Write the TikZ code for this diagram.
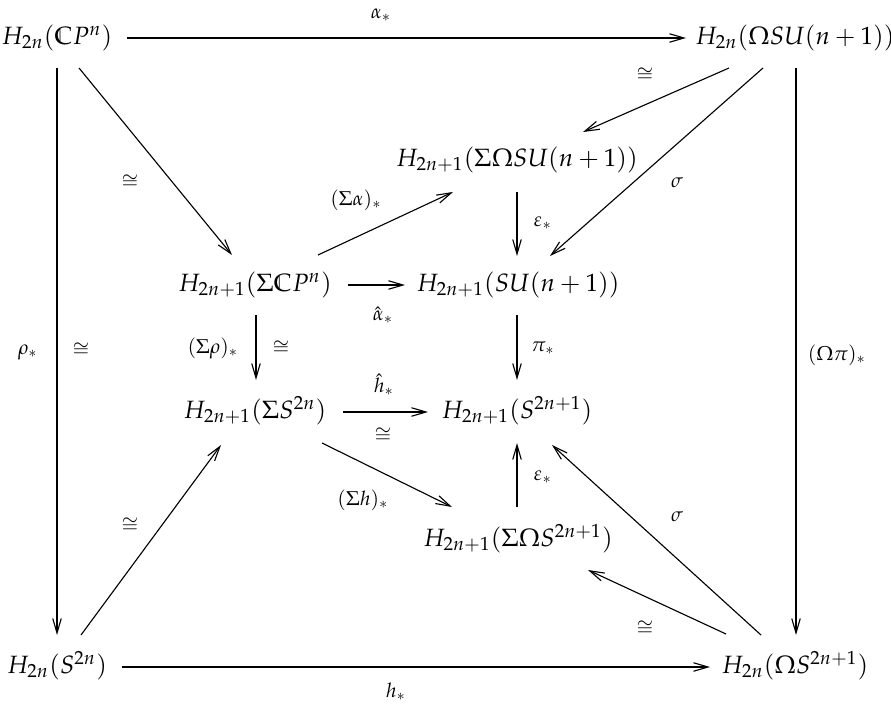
\documentclass[tikz,border=0pt]{standalone}
\usepackage{mathpazo}
\usetikzlibrary{arrows.meta,calc}
\tikzset{
  obj/.style={inner sep=0pt, text height=7.5pt, text depth=2.5pt, anchor=center},
  lab/.style={inner sep=0pt, font=\footnotesize},
  arr/.style={-{Straight Barb[length=5.8pt,width=3.4pt]}, line width=0.45pt},
}
\begin{document}
\begin{tikzpicture}[x=0.4pt,y=-0.4pt]
\useasboundingbox (0,0) rectangle (891,706);
% objects
\node[obj] (A) at (57,38) {$H_{2n}(\mathbb{C}P^n)$};
\node[obj] (B) at (795,38) {$H_{2n}(\Omega SU(n+1))$};
\node[obj] (C) at (517,160) {$H_{2n+1}(\Sigma\Omega SU(n+1))$};
\node[obj] (D) at (255,285) {$H_{2n+1}(\Sigma\mathbb{C}P^n)$};
\node[obj] (E) at (518,285) {$H_{2n+1}(SU(n+1))$};
\node[obj] (F) at (255,412) {$H_{2n+1}(\Sigma S^{2n})$};
\node[obj] (G) at (517,412) {$H_{2n+1}(S^{2n+1})$};
\node[obj] (Hn) at (518,540) {$H_{2n+1}(\Sigma\Omega S^{2n+1})$};
\node[obj] (I) at (57,667) {$H_{2n}(S^{2n})$};
\node[obj] (J) at (795,667) {$H_{2n}(\Omega S^{2n+1})$};
% connectors
\draw[arr] ($(A)+(70,0)$) -- ($(B)+(-109,0)$);
\draw[arr] ($(A)+(0,30)$) -- ($(I)+(0,-32)$);
\draw[arr] ($(B)+(1,30)$) -- ($(J)+(1,-32)$);
\draw[arr] ($(I)+(65,0)$) -- ($(J)+(-85,0)$);
\draw[arr] ($(A)+(22,30)$) -- ($(D)+(-23,-30)$);
\draw[arr] ($(D)+(63,-30)$) -- ($(C)+(-64,32)$);
\draw[arr] ($(B)+(-66,30)$) -- ($(C)+(66,-28)$);
\draw[arr] ($(B)+(-32,30)$) -- ($(E)+(32,-29)$);
\draw[arr] ($(C)+(0,32)$) -- ($(E)+(-1,-29)$);
\draw[arr] ($(D)+(93,0)$) -- ($(E)+(-113,0)$);
\draw[arr] ($(D)+(1,30)$) -- ($(F)+(1,-32)$);
\draw[arr] ($(F)+(88,0)$) -- ($(G)+(-89,0)$);
\draw[arr] ($(E)+(-1,30)$) -- ($(G)+(0,-32)$);
\draw[arr] ($(Hn)+(-1,-33)$) -- ($(G)+(0,31)$);
\draw[arr] ($(F)+(67,31)$) -- ($(Hn)+(-66,-33)$);
\draw[arr] ($(I)+(24,-32)$) -- ($(F)+(-34,33)$);
\draw[arr] ($(J)+(-34,-32)$) -- ($(G)+(35,33)$);
\draw[arr] ($(J)+(-69,-33)$) -- ($(Hn)+(70,30)$);
% labels
\node[lab] (lalpha) at (381,15) {$\alpha_*$};
\node[lab] (lrho) at (28,352) {$\rho_*$};
\node[lab] (lcongAI) at (81,350) {$\cong$};
\node[lab] (lOmpi) at (837,355) {$(\Omega\pi)_*$};
\node[lab] (lh) at (396,692) {$h_*$};
\node[lab] (lcongAD) at (130,182) {$\cong$};
\node[lab] (lSalpha) at (356,200) {$(\Sigma\alpha)_*$};
\node[lab] (lcongBC) at (645,75) {$\cong$};
\node[lab] (lsigmaBE) at (677,183) {$\sigma$};
\node[lab] (lepsCE) at (543,223) {$\varepsilon_*$};
\node[lab] (lahat) at (383,315) {$\hat{\alpha}_*$};
\node[lab] (lSrho) at (213,348) {$(\Sigma\rho)_*$};
\node[lab] (lcongDF) at (281,348) {$\cong$};
\node[lab] (lhhat) at (384,385) {$\hat{h}_*$};
\node[lab] (lcongFG) at (383,435) {$\cong$};
\node[lab] (lpi) at (543,348) {$\pi_*$};
\node[lab] (lepsHG) at (543,477) {$\varepsilon_*$};
\node[lab] (lSh) at (363,500) {$(\Sigma h)_*$};
\node[lab] (lcongIF) at (130,525) {$\cong$};
\node[lab] (lsigmaJG) at (677,517) {$\sigma$};
\node[lab] (lcongJH) at (645,628) {$\cong$};
\end{tikzpicture}
\end{document}
